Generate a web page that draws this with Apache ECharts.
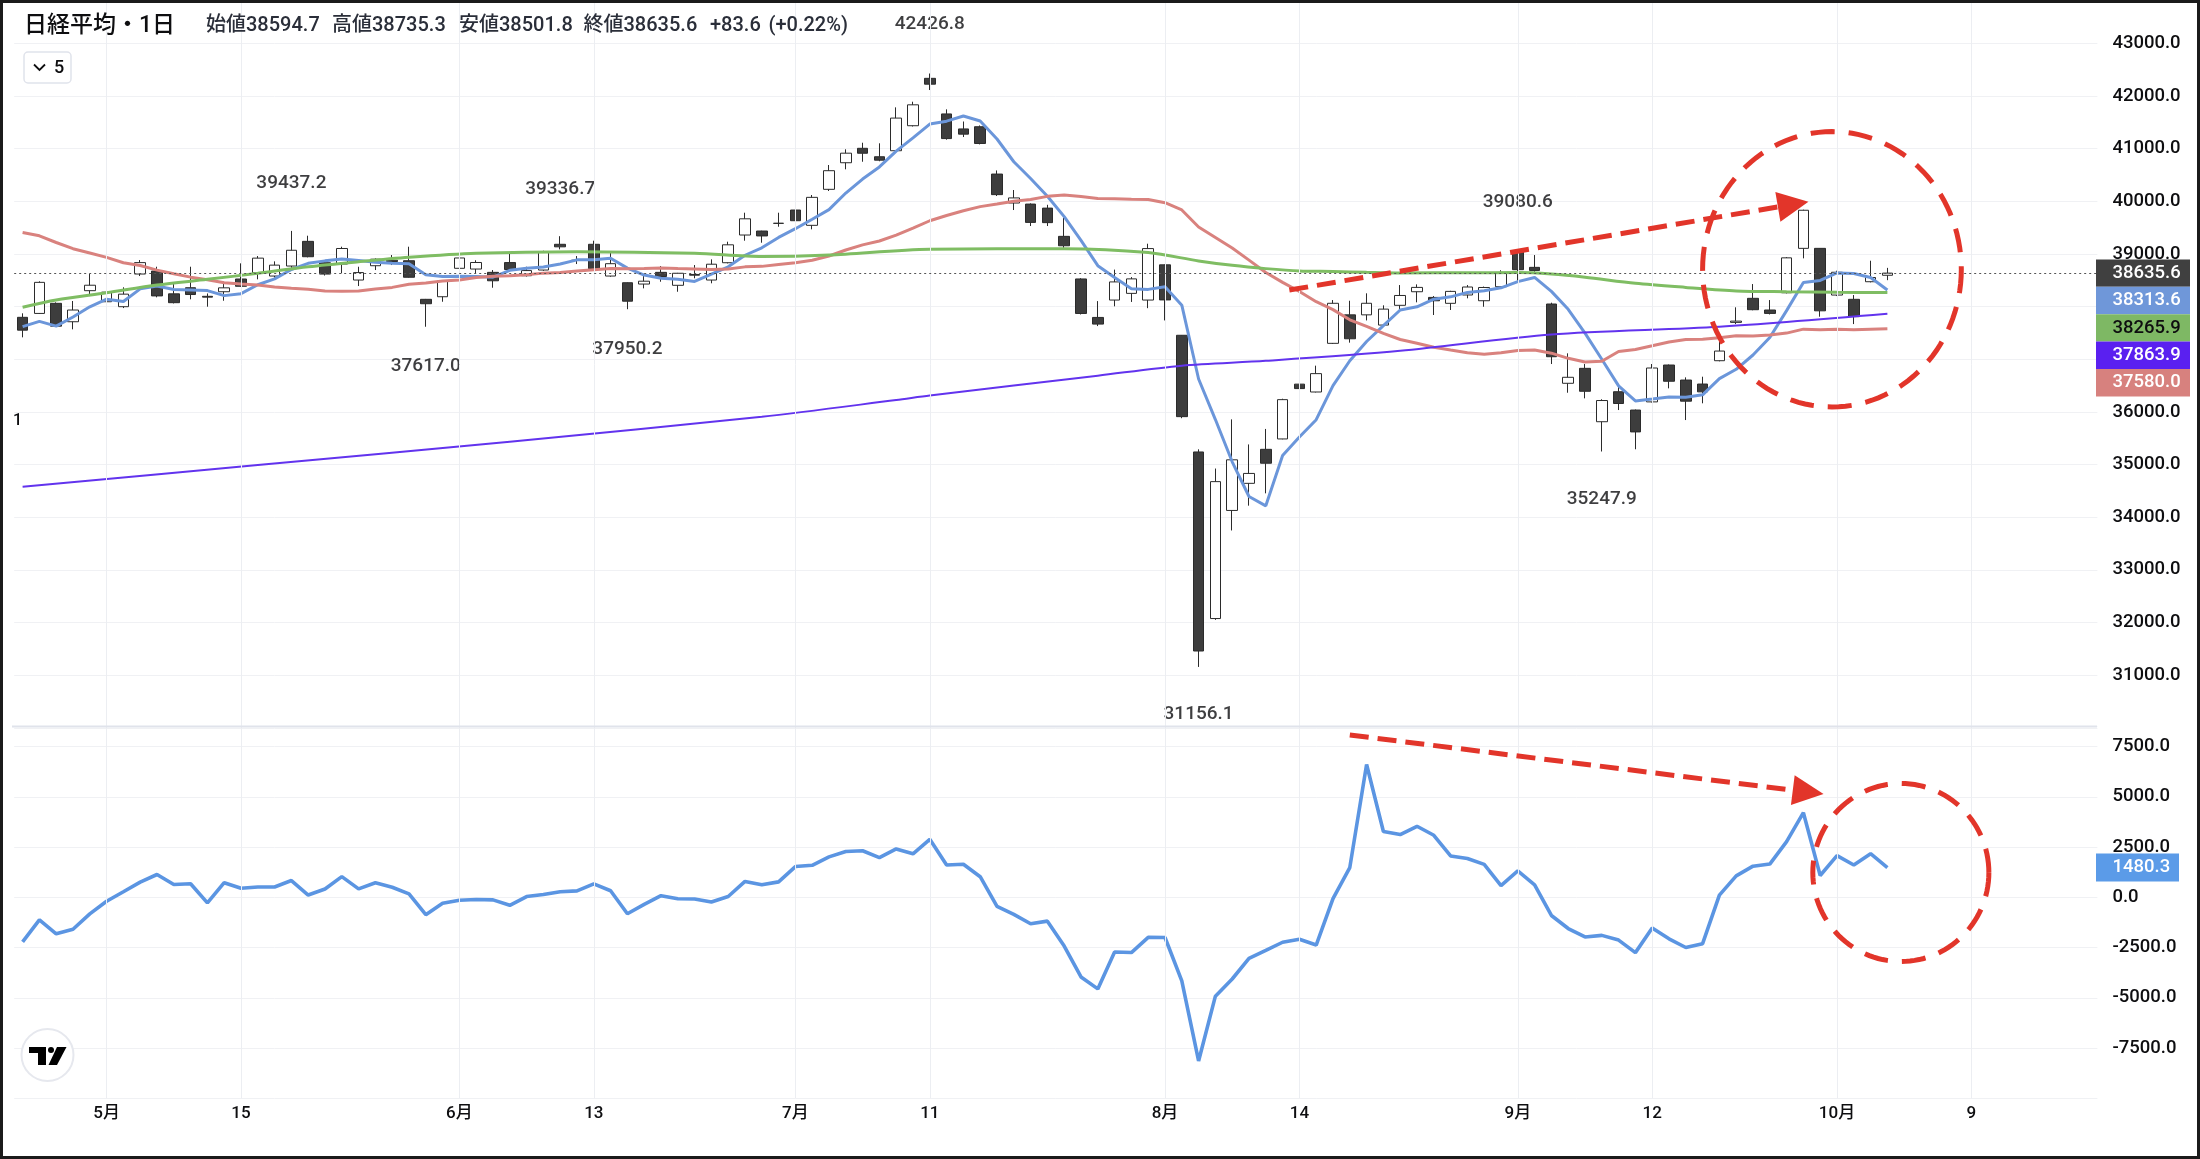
<!DOCTYPE html>
<html>
<head>
<meta charset="utf-8">
<script src="https://cdn.jsdelivr.net/npm/echarts@6/dist/echarts.min.js"></script>
<style>
  html, body { margin: 0; padding: 0; background: #fff; }
  #chart { width: 2200px; height: 1159px; }
</style>
</head>
<body>
<div id="chart"></div>
<script>
// trading days (Apr 23 - Oct 4) + empty future slots
const dates = ['4/23','4/24','4/25','4/26','4/30',
  '5/1','5/2','5/7','5/8','5/9','5/10','5/13','5/14','5/15','5/16','5/17','5/20','5/21','5/22','5/23','5/24','5/27','5/28','5/29','5/30','5/31',
  '6/3','6/4','6/5','6/6','6/7','6/10','6/11','6/12','6/13','6/14','6/17','6/18','6/19','6/20','6/21','6/24','6/25','6/26','6/27','6/28',
  '7/1','7/2','7/3','7/4','7/5','7/8','7/9','7/10','7/11','7/12','7/16','7/17','7/18','7/19','7/22','7/23','7/24','7/25','7/26','7/29','7/30','7/31',
  '8/1','8/2','8/5','8/6','8/7','8/8','8/9','8/13','8/14','8/15','8/16','8/19','8/20','8/21','8/22','8/23','8/26','8/27','8/28','8/29','8/30',
  '9/2','9/3','9/4','9/5','9/6','9/9','9/10','9/11','9/12','9/13','9/17','9/18','9/19','9/20','9/24','9/25','9/26','9/27','9/30',
  '10/1','10/2','10/3','10/4',
  '10/5','10/6','10/7','10/8','10/9','10/10','10/11','10/12','10/13','10/14','10/15','10/16'];

const tickDates = ['5/1','5/15','6/3','6/13','7/1','7/11','8/1','8/14','9/2','9/12','10/1','10/9'];
const tickTexts = ['5月','15','6月','13','7月','11','8月','14','9月','12','10月','9'];

const opens = [37796,37870,38062,37712,38302,38092,37998,38618,38675,38242,
  38358,38195,38282,38524,38643,38580,38770,39239,38833,38808,
  38504,38776,38880,38871,38138,38187,38727,38713,38650,38836,
  38586,38694,39183,38880,39183,38580,38453,38428,38650,38404,
  38610,38504,38833,39359,39435,39580,39834,39543,40227,40732,
  41006,40846,40960,41435,42335,41659,41374,41416,40517,39967,
  39947,39870,39334,38525,37794,38124,38251,38124,38793,37455,
  35239,32075,34128,34643,35289,35486,36527,36378,37302,37843,
  37843,37649,38024,38282,38174,38062,38220,38111,38377,39042,
  38745,38049,36543,36827,35813,36383,36035,36190,36890,36605,
  36529,36972,37700,38157,37935,38263,39106,39106,38219,38138,
  38472,38594.7];
const highs = [37872,38480,38080,38106,38618,38428,38366,38884,38757,38428,
  38757,38249,38472,38821,38960,38859,39437.2,39346,38840,39137,
  38757,38916,38979,39137,38145,38500,39023,38880,38694,39023,
  38757,39061,39336.7,38960,39251,39042,38460,38580,38770,38640,
  38789,38897,39232,39783,39440,39783,39929,40119,40689,40987,
  41112,41101,41784,41891,42426.8,41746,41515,41440,40586,40214,
  39960,39933,39686,38540,38104,38702,38560,39194,38800,37460,
  35289,34924,35858,35382,35676,36250,36683,36878,38124,38111,
  38252,38024,38409,38422,38200,38300,38409,38380,38690,39080.6,
  38979,38074,37112,36909,36240,36510,36045,36909,36900,36656,
  36668,37428,37986,38428,38124,38940,39840,39110,38681,38219,
  38871,38735.3];
const lows = [37416,37860,37620,37568,38200,38062,37972,38580,38176,38060,
  38138,37998,38111,38377,38518,38548,38727,38935,38590,38632,
  38390,38694,38789,38550,37617.0,38092,38720,38632,38358,38690,
  38570,38680,39087,38808,38700,38567,37950.2,38346,38472,38282,
  38537,38442,38820,39251,39213,39517,39568,39467,40195,40607,
  40751,40760,40950,41420,42113,41170,41220,41080,40100,39834,
  39530,39530,39112,37850,37630,38005,38088,37970,37737,35880,
  31156.1,32050,33748,34219,34453,35480,36085,36370,37290,37315,
  37737,37623,37902,38081,37840,37935,38157,37997,38360,38491,
  38660,36909,36364,36257,35247.9,36035,35290,36180,36447,35845,
  36163,36960,37668,37930,37850,38250,38916,37808,38200,37668,
  38460,38501.8];
const closes = [37552.16,38460.08,37628.48,37934.76,38405.66,38274.05,38236.07,38835.10,38202.37,38073.98,
  38229.11,38179.46,38356.06,38385.73,38920.26,38787.38,39069.68,38946.93,38617.10,39103.22,
  38646.11,38900.02,38855.37,38556.87,38054.13,38487.90,38923.03,38837.46,38490.17,38703.51,
  38683.93,39038.16,39134.79,38876.71,38720.47,38814.56,38102.44,38482.11,38570.76,38633.02,
  38596.47,38804.65,39173.15,39667.07,39341.54,39583.08,39631.06,40074.69,40580.76,40913.65,
  40912.37,40780.70,41580.17,41831.99,42224.02,41190.68,41275.08,41097.69,40126.35,40063.79,
  39599.00,39594.39,39154.85,37869.51,37667.41,38468.63,38525.95,39101.82,38126.33,35909.70,
  31458.42,34675.46,35089.62,34831.15,35025.00,36232.51,36442.43,36726.64,38062.67,37388.62,
  38062.92,37951.80,38211.01,38364.27,38110.22,38288.62,38371.76,38362.53,38647.75,38700.87,
  38686.31,37047.61,36657.09,36391.47,36215.75,36159.16,35619.77,36833.27,36581.76,36203.22,
  36380.17,37155.33,37723.91,37940.59,37870.26,38925.63,39829.56,37919.55,38651.97,37808.76,
  38552.06,38635.62];

const ma5 = [37620.1,37719.8,37629.5,37802.8,37996.2,38140.6,38095.8,38337.1,38390.7,38324.3,
  38315.3,38304.0,38208.2,38244.9,38414.1,38525.8,38703.8,38822.0,38868.3,38904.9,
  38876.6,38842.7,38824.4,38812.3,38602.5,38570.9,38575.5,38571.9,38558.5,38688.4,
  38727.6,38750.6,38810.1,38887.4,38890.8,38916.9,38729.8,38599.3,38538.1,38520.6,
  38477.0,38617.4,38755.6,38974.9,39116.6,39313.9,39479.2,39659.5,39842.2,40156.6,
  40422.5,40652.4,40953.5,41203.8,41465.9,41521.5,41620.4,41523.9,41182.8,40750.7,
  40432.4,40096.2,39707.7,39256.3,38777.0,38551.0,38337.3,38326.7,38378.0,38026.5,
  36624.4,35854.3,35051.9,34392.9,34215.9,35170.7,35524.1,35851.5,36497.9,36970.6,
  37336.7,37638.5,37935.4,37995.7,38140.0,38185.2,38269.2,38299.5,38356.2,38474.3,
  38553.8,38289.0,37947.9,37496.7,36999.6,36494.2,36208.6,36243.9,36281.9,36279.4,
  36323.6,36630.8,36808.9,37080.6,37414.1,37923.1,38458.0,38497.1,38639.4,38627.1,
  38552.4,38313.6];
const ma25 = [39406.4,39344.7,39217.2,39099.1,39018.8,38933.8,38832.7,38779.4,38692.7,38623.5,
  38559.1,38508.2,38451.5,38427.2,38410.1,38370.7,38350.2,38330.4,38294.1,38288.9,
  38295.9,38333.4,38364.4,38423.9,38448.5,38485.9,38504.4,38552.8,38575.0,38586.9,
  38603.3,38635.4,38647.4,38674.4,38700.3,38723.7,38720.6,38725.6,38733.0,38721.5,
  38713.9,38703.3,38712.3,38754.3,38763.8,38801.3,38830.5,38879.3,38960.3,39074.7,
  39171.7,39246.0,39355.7,39489.4,39630.2,39730.5,39820.0,39898.5,39948.5,40002.2,
  40033.6,40093.3,40120.2,40092.1,40053.5,40048.4,40037.3,40034.4,39972.8,39835.5,
  39510.5,39312.3,39112.9,38882.9,38647.4,38460.2,38286.7,38092.6,37941.8,37748.4,
  37623.3,37490.4,37374.9,37304.4,37226.3,37173.9,37125.0,37093.3,37124.4,37165.7,
  37174.4,37115.3,37017.5,36948.1,36960.3,37148.3,37186.1,37255.8,37325.8,37372.9,
  37378.8,37407.3,37447.2,37442.3,37461.6,37496.1,37571.2,37559.5,37571.0,37558.9,
  37569.5,37580.0];
// at the listed bar indexes
const ma75 = [[0,37986],[2,38124],[5,38263],[8,38409],[11,38517],[14,38632],[17,38757],[20,38852],
  [23,38935],[27,39011],[33,39042],[40,39011],[44,38950],[48,38979],[54,39090],[62,39100],[67,39025],
  [70,38867],[72,38783],[74,38721],[76,38676],[78,38666],[80,38650],[82,38638],[86,38644],[89,38645],
  [91,38617],[93,38557],[96,38442],[99,38364],[102,38297],[105,38282],[108,38273],[111,38265.9]];
const ma200 = [[0,34580],[14,34990],[29,35433],[44,35908],[52,36225],[54,36310],[64,36688],[69,36878],
  [74,36969],[82,37160],[91,37470],[101,37617],[111,37863.9]];

const momentum = [-2221.0,-1121.7,-1814.2,-1588.8,-827.1,-197.2,274.3,755.4,1134.0,635.4,
  677.0,-280.6,727.6,451.0,514.6,513.3,833.6,111.8,414.7,1029.2,
  417.0,720.6,499.3,171.1,-866.1,-299.5,-146.7,-109.5,-126.9,-399.7,
  37.8,138.1,279.4,319.8,666.3,326.7,-820.6,-355.4,80.6,-70.5,
  -87.5,-233.5,38.4,790.4,621.1,768.5,1528.6,1592.6,2010.0,2280.6,
  2315.9,1976.1,2407.0,2164.9,2882.5,1607.6,1644.0,1023.0,-454.4,-849.9,
  -1313.4,-1186.3,-2425.3,-3962.5,-4556.6,-2722.1,-2749.1,-1995.9,-2000.0,-4154.1,
  -8140.6,-4918.9,-4065.2,-3038.4,-2642.4,-2236.1,-2083.5,-2375.2,-63.7,1478.9,
  6604.5,3276.3,3121.4,3533.1,3085.2,2056.1,1929.3,1635.9,585.1,1312.3,
  623.4,-904.2,-1553.9,-1972.8,-1894.5,-2129.5,-2752.0,-1529.3,-2066.0,-2497.7,
  -2306.1,107.7,1066.8,1549.1,1654.5,2766.5,4209.8,1086.3,2070.2,1605.5,
  2171.9,1480.3];

// high / low markers shown on the chart
const hiloDates = ['7/11','5/20','6/11','9/2','5/30','6/17','8/5','9/9'];
const hiloKind = ['high','high','high','high','low','low','low','low'];

const INK = '#0e0e10';
const RED = '#e2352a';
const FONT = 'Roboto, "Noto Sans CJK JP", sans-serif';
const W8 = 500;
const hiloGap = [39, 38, 37, 37, 30, 30, 37, 38];

const candles = closes.map((c, i) => [opens[i], c, lows[i], highs[i]]);

const vgrid = {
  silent: true, symbol: ['none', 'none'], label: { show: false },
  lineStyle: { color: '#eceef2', width: 1, type: 'solid', opacity: 1 },
  data: tickDates.map(d => ({ xAxis: d }))
};

const chart = echarts.init(document.getElementById('chart'));
chart.setOption({
  animation: false,
  backgroundColor: '#ffffff',
  textStyle: { fontFamily: FONT },
  grid: [
    { left: 14.2, right: 102.6, top: 1.2, height: 726.6 },
    { left: 14.2, right: 102.6, top: 726.45, height: 371.85 }
  ],
  xAxis: [
    { type: 'category', gridIndex: 0, data: dates, boundaryGap: true,
      axisLine: { show: false }, axisTick: { show: false }, axisLabel: { show: false }, splitLine: { show: false } },
    { type: 'category', gridIndex: 1, data: dates, boundaryGap: true,
      axisLine: { show: false }, axisTick: { show: false }, splitLine: { show: false },
      axisLabel: {
        interval: (i, v) => tickDates.indexOf(v) >= 0,
        formatter: v => tickTexts[tickDates.indexOf(v)] || '',
        color: INK, fontSize: 17, fontWeight: W8, margin: 7, fontFamily: FONT
      } }
  ],
  yAxis: [
    { type: 'value', gridIndex: 0, position: 'right', min: 30000, max: 43800, interval: 1000,
      axisLine: { show: false }, axisTick: { show: false },
      axisLabel: { color: INK, fontSize: 18.5, fontWeight: W8, margin: 15, fontFamily: FONT,
        formatter: v => v.toFixed(1), showMinLabel: false, showMaxLabel: false },
      splitLine: { lineStyle: { color: '#f0f1f4', width: 1 } } },
    { type: 'value', gridIndex: 1, position: 'right', min: -10000, max: 8500, interval: 2500,
      axisLine: { show: false }, axisTick: { show: false },
      axisLabel: { color: INK, fontSize: 18.5, fontWeight: W8, margin: 15, fontFamily: FONT,
        formatter: v => v.toFixed(1), showMinLabel: false, showMaxLabel: false },
      splitLine: { lineStyle: { color: '#f0f1f4', width: 1 } } }
  ],
  series: [
    { name: 'gridMain', type: 'line', data: closes, symbol: 'none', silent: true, z: 1,
      lineStyle: { opacity: 0 }, markLine: vgrid },
    { name: '日経平均', type: 'candlestick', data: candles, barWidth: 11, z: 2,
      itemStyle: { color: '#ffffff', color0: '#3d3d3d', borderColor: '#2b2b2b', borderColor0: '#2b2b2b', borderWidth: 1 },
      markLine: { silent: true, symbol: ['none', 'none'], label: { show: false },
        lineStyle: { color: '#555555', width: 1, type: [2, 3] },
        data: [{ yAxis: closes[closes.length - 1] }] } },
    { name: 'MA5', type: 'line', data: ma5, symbol: 'none', z: 3, silent: true,
      lineStyle: { color: '#6b96da', width: 3 } },
    { name: 'MA25', type: 'line', data: ma25, symbol: 'none', z: 3, silent: true,
      lineStyle: { color: '#d9827e', width: 3 } },
    { name: 'MA75', type: 'line', data: ma75, symbol: 'none', smooth: 0.3, z: 3, silent: true,
      lineStyle: { color: '#7fbd63', width: 3 } },
    { name: 'MA200', type: 'line', data: ma200, symbol: 'none', smooth: 0.3, z: 3, silent: true,
      lineStyle: { color: '#6233ee', width: 2 } },
    { name: 'hilo', type: 'scatter', symbolSize: 1, silent: true, z: 4,
      itemStyle: { color: 'transparent' },
      label: { show: true, formatter: p => p.value[1].toFixed(1), color: INK, fontSize: 19, fontWeight: W8, fontFamily: FONT },
      data: hiloDates.map((d, k) => {
        const i = dates.indexOf(d);
        const hi = hiloKind[k] === 'high';
        return { value: [d, hi ? highs[i] : lows[i]],
          label: { position: hi ? 'top' : 'bottom', distance: hiloGap[k] } };
      }) },
    { name: 'gridSub', type: 'line', xAxisIndex: 1, yAxisIndex: 1, data: momentum, symbol: 'none',
      silent: true, z: 1, lineStyle: { opacity: 0 }, markLine: vgrid },
    { name: 'Momentum', type: 'line', xAxisIndex: 1, yAxisIndex: 1, data: momentum, symbol: 'none',
      z: 3, silent: true, lineStyle: { color: '#5b95e2', width: 3.6 } }
  ]
});

// overlay: header, price tags, drawn annotations
const x0 = chart.convertToPixel({ xAxisIndex: 0 }, dates[0]);
const step = chart.convertToPixel({ xAxisIndex: 0 }, dates[1]) - x0;
const X = i => x0 + i * step;
const YM = v => chart.convertToPixel({ yAxisIndex: 0 }, v);
const YS = v => chart.convertToPixel({ yAxisIndex: 1 }, v);

const g = [];
function text(x, y, s, size, color, weight) {
  g.push({ type: 'text', x: x, y: y, z: 120,
    style: { text: s, fill: color || INK, fontSize: size, fontWeight: weight || W8, fontFamily: FONT,
      verticalAlign: 'middle', align: 'left' } });
}

// pane separator + frame
const sepY = YS(8500);
g.push({ type: 'line', z: 90, shape: { x1: 12, y1: sepY, x2: 2097, y2: sepY }, style: { stroke: '#e0e3eb', lineWidth: 2 } });
g.push({ type: 'rect', z: 130, shape: { x: 1.5, y: 1.5, width: 2197, height: 1156 }, style: { fill: 'none', stroke: '#1b1b1b', lineWidth: 3 } });

// header
text(24, 26, '日経平均・1日', 23);
const last = closes.length - 1;
const prev = closes[last - 1];
const chg = closes[last] - prev;
const head = ['始値' + opens[last].toFixed(1), '高値' + highs[last].toFixed(1), '安値' + lows[last].toFixed(1),
  '終値' + closes[last].toFixed(1), '+' + chg.toFixed(1), '(+' + (chg / prev * 100).toFixed(2) + '%)'];
[206, 332, 459, 583.5, 710, 768.5].forEach((x, k) => text(x, 26, head[k], 20, '#2a2e39'));

// collapse button
g.push({ type: 'rect', z: 120, shape: { x: 24, y: 52, width: 47, height: 31, r: 4 }, style: { fill: '#fff', stroke: '#e0e3eb', lineWidth: 1.5 } });
g.push({ type: 'polyline', z: 121, shape: { points: [[34, 64.5], [39.5, 70], [45, 64.5]] }, style: { stroke: INK, lineWidth: 1.8, fill: 'none' } });
text(54, 68, '5', 18);
text(13, 421, '1', 16);

// logo
g.push({ type: 'circle', z: 120, shape: { cx: 47.5, cy: 1055, r: 26 }, style: { fill: '#fff', stroke: '#e6e8ee', lineWidth: 2 } });
g.push({ type: 'polygon', z: 121, shape: { points: [[29, 1047], [46, 1047], [46, 1065], [38, 1065], [38, 1053], [29, 1053]] }, style: { fill: '#000' } });
g.push({ type: 'circle', z: 121, shape: { cx: 51, cy: 1050, r: 3 }, style: { fill: '#000' } });
g.push({ type: 'polygon', z: 121, shape: { points: [[57, 1047], [66.5, 1047], [57, 1065], [48.5, 1065]] }, style: { fill: '#000' } });

// price tags on the right scale
const tags = [
  { v: closes[last], bg: '#404040', fg: '#ffffff' },
  { v: ma5[last], bg: '#6f97d9', fg: '#ffffff' },
  { v: ma75[ma75.length - 1][1], bg: '#7eb864', fg: INK },
  { v: ma200[ma200.length - 1][1], bg: '#5a20f0', fg: '#ffffff' },
  { v: ma25[last], bg: '#d7817e', fg: '#ffffff' }
];
const tagTop = YM(closes[last]);
tags.forEach((t, k) => {
  const cy = tagTop + k * 27.4;
  g.push({ type: 'rect', z: 110, shape: { x: 2096, y: cy - 13.7, width: 94, height: 27.4 }, style: { fill: t.bg } });
  text(2112.5, cy, t.v.toFixed(1), 18.5, t.fg);
});
const my = YS(momentum[last]);
g.push({ type: 'rect', z: 110, shape: { x: 2096, y: my - 14, width: 83, height: 28 }, style: { fill: '#5b9be8' } });
text(2112.5, my, momentum[last].toFixed(1), 18.5, '#ffffff');

// red hand-drawn annotations (anchored in data space)
function arrow(p0, p1) {
  const dx = p1[0] - p0[0], dy = p1[1] - p0[1], len = Math.hypot(dx, dy);
  const ux = dx / len, uy = dy / len, nx = -uy, ny = ux, L = 31, W = 15;
  const b = [p1[0] - ux * L, p1[1] - uy * L];
  g.push({ type: 'line', z: 115, shape: { x1: p0[0], y1: p0[1], x2: b[0] + ux * 3, y2: b[1] + uy * 3 },
    style: { stroke: RED, lineWidth: 5, lineDash: [19, 9] } });
  g.push({ type: 'polygon', z: 115, shape: { points: [p1, [b[0] + nx * W, b[1] + ny * W], [b[0] - nx * W, b[1] - ny * W]] },
    style: { fill: RED } });
}
function ring(cx, cy, rx, ry) {
  const pts = [];
  for (let k = 0; k < 120; k++) {
    const a = k / 120 * Math.PI * 2;
    pts.push([cx + rx * Math.cos(a), cy + ry * Math.sin(a)]);
  }
  g.push({ type: 'polygon', z: 115, shape: { points: pts }, style: { fill: 'none', stroke: RED, lineWidth: 5, lineDash: [24, 14] } });
}
arrow([X(75.4), YM(38314)], [X(106.3), YM(39992)]);
ring(X(107.7), YM(38708), 7.7 * step, YM(38708 - 2615) - YM(38708));
arrow([X(79.0), YS(8075)], [X(107.2), YS(5139)]);
ring(X(111.8), YS(1234), 5.24 * step, YS(1234 - 4428) - YS(1234));

chart.setOption({ graphic: g });
</script>
</body>
</html>
